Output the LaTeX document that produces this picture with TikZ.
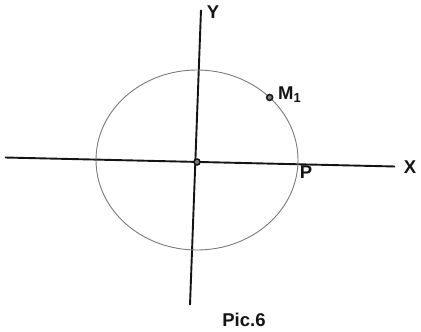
\documentclass[tikz,border=0pt]{standalone}
\usepackage{fontspec}
\setmainfont{Liberation Sans}
\usepackage{xcolor}
\usepackage{tikz}
\usetikzlibrary{calc,positioning}
\definecolor{Ink}{HTML}{141414}
\definecolor{Orbit}{HTML}{7A7A7A}

\begin{document}
\begin{tikzpicture}[x=1pt,y=-1pt,
    axis/.style={Ink,line width=1.9pt},
    orbit/.style={Orbit,line width=0.9pt},
    dot/.style={circle,draw=Ink,line width=1.5pt,fill=Ink!55,inner sep=0pt,minimum size=6pt},
    lbl/.style={Ink,font=\fontsize{18.5}{22}\selectfont\bfseries,inner sep=1pt}]
  \useasboundingbox[fill=white] (0,0) rectangle (421,332);
  % axes
  \coordinate (xl) at (5,157.5);
  \coordinate (xr) at (395,166.5);
  \coordinate (yt) at (201,10);
  \coordinate (yb) at (190,305);
  \draw[axis] (xl) -- (xr);
  \draw[axis] (yt) -- (yb);
  \node[lbl] (xlab) at (410,167) {X};
  \node[lbl] (ylab) at (213,12) {Y};
  % circle of motion
  \coordinate (c) at (197,160);
  \draw[orbit] (c) ellipse [x radius=101, y radius=90];
  \node[dot] (o) at (197,162) {};
  \node[dot] (m) at ($(c)+(44:101 and -90)$) {};
  \node[lbl,anchor=west] (mlab) at (277,95) {M$_{\mathbf 1}$};
  \node[lbl] (plab) at (306,172) {P};
  \node[lbl] (cap) at (244,320) {Pic.6};
\end{tikzpicture}
\end{document}
